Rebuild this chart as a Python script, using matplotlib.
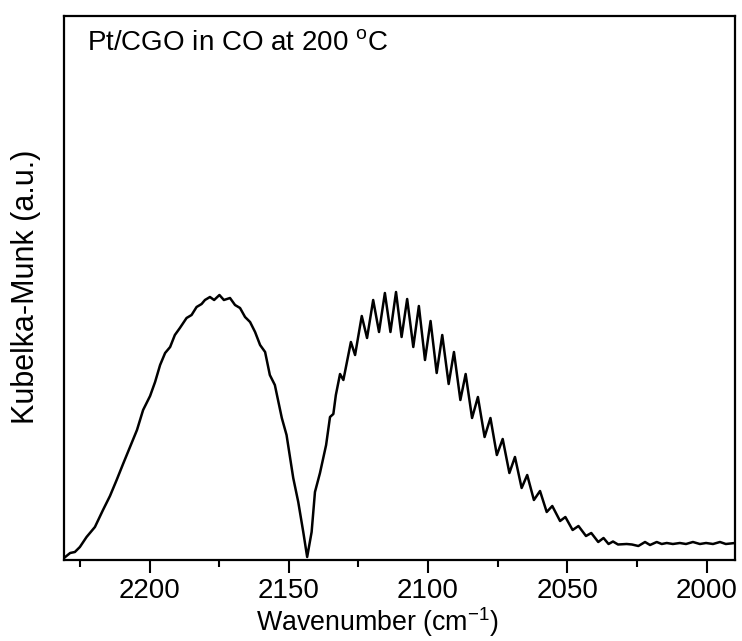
import matplotlib
matplotlib.use("Agg")
import matplotlib.pyplot as plt

plt.rcParams['font.family'] = ['Liberation Sans', 'DejaVu Sans']
plt.rcParams['mathtext.fontset'] = 'custom'
plt.rcParams['mathtext.rm'] = 'Liberation Sans'
plt.rcParams['mathtext.it'] = 'Liberation Sans:italic'
plt.rcParams['mathtext.bf'] = 'Liberation Sans:bold'

wavenumber = [
    2230.7, 2228.5, 2226.8, 2225.0, 2222.6, 2219.6, 2216.7, 2214.2, 2211.8, 2209.5,
    2207.0, 2204.5, 2202.3, 2199.8, 2198.0, 2196.2, 2194.4, 2192.6, 2190.9, 2189.1,
    2186.7, 2184.9, 2183.1, 2181.3, 2180.1, 2178.3, 2176.8, 2174.9, 2173.3, 2171.1,
    2169.3, 2167.5, 2165.7, 2163.9, 2162.1, 2160.3, 2158.5, 2156.8, 2155.0, 2152.5,
    2150.8, 2148.4, 2146.6, 2144.8, 2143.4, 2141.8, 2140.6, 2138.8, 2136.6, 2135.2,
    2134.0, 2133.1, 2131.6, 2130.4, 2127.7, 2126.2, 2123.8, 2121.9, 2119.7, 2117.6,
    2115.5, 2113.5, 2111.5, 2109.5, 2107.5, 2105.3, 2103.3, 2101.1, 2099.1, 2096.9,
    2094.9, 2092.6, 2090.7, 2088.4, 2086.5, 2084.2, 2082.1, 2079.7, 2077.6, 2075.3,
    2073.2, 2070.8, 2068.8, 2066.4, 2064.4, 2062.0, 2059.8, 2057.4, 2055.4, 2052.6,
    2050.7, 2048.1, 2046.0, 2043.3, 2041.4, 2038.9, 2037.0, 2035.2, 2033.6, 2031.8,
    2028.7, 2026.8, 2024.5, 2022.1, 2020.3, 2017.9, 2016.1, 2014.3, 2012.1, 2009.6,
    2007.4, 2004.9, 2002.4, 2000.2, 1997.7, 1995.2, 1993.1, 1989.8,
]
kubelka_munk = [
    0.02, 0.07, 0.08, 0.13, 0.23, 0.33, 0.50, 0.64, 0.80, 0.96,
    1.13, 1.30, 1.50, 1.64, 1.78, 1.95, 2.07, 2.13, 2.25, 2.32,
    2.42, 2.45, 2.53, 2.56, 2.60, 2.63, 2.60, 2.65, 2.60, 2.62,
    2.55, 2.52, 2.43, 2.38, 2.28, 2.15, 2.08, 1.85, 1.75, 1.42,
    1.25, 0.82, 0.58, 0.28, 0.03, 0.28, 0.68, 0.87, 1.15, 1.43,
    1.46, 1.65, 1.86, 1.80, 2.18, 2.05, 2.44, 2.22, 2.60, 2.28,
    2.67, 2.28, 2.68, 2.23, 2.61, 2.13, 2.54, 2.00, 2.39, 1.87,
    2.25, 1.76, 2.08, 1.60, 1.86, 1.42, 1.63, 1.23, 1.42, 1.05,
    1.21, 0.87, 1.03, 0.72, 0.85, 0.60, 0.69, 0.48, 0.54, 0.39,
    0.43, 0.30, 0.34, 0.24, 0.27, 0.18, 0.22, 0.16, 0.185, 0.155,
    0.16, 0.155, 0.14, 0.18, 0.15, 0.18, 0.16, 0.17, 0.16, 0.17,
    0.16, 0.18, 0.16, 0.17, 0.16, 0.18, 0.16, 0.17,
]

x_ticks = [2200, 2150, 2100, 2050, 2000]
x_minor = [2225, 2175, 2125, 2075, 2025]
annotation = "Pt/CGO in CO at 200 $^{\\mathrm{o}}$C"

fig = plt.figure(figsize=(7.42, 6.41), dpi=100)
ax = fig.add_axes([64/742, 1-560/641, (735-64)/742, (560-16)/641])
ax.plot(wavenumber, kubelka_munk, color='black', lw=1.8,
        solid_joinstyle='round', solid_capstyle='round')
ax.set_xlim(2230.7, 1989.8)
ax.set_ylim(0, 5.44)
ax.set_xticks(x_ticks)
ax.set_xticks(x_minor, minor=True)
ax.set_yticks([])
ax.tick_params(axis='x', which='major', direction='out', length=9, width=1.5, labelsize=20, pad=4)
ax.tick_params(axis='x', which='minor', direction='out', length=5, width=1.5)
for s in ax.spines.values():
    s.set_linewidth(1.6)
fig.text(377/742, 1-631/641, "Wavenumber (cm$^{\\mathrm{-1}}$)", fontsize=19.3,
         ha='center', va='baseline')
fig.text(26/742, 1-287/641, "Kubelka-Munk (a.u.)", fontsize=22, rotation=90,
         ha='center', va='center')
ax.text(0.035, 0.974, annotation, transform=ax.transAxes, fontsize=20, va='top', ha='left')

fig.savefig("out.png", dpi=100)
